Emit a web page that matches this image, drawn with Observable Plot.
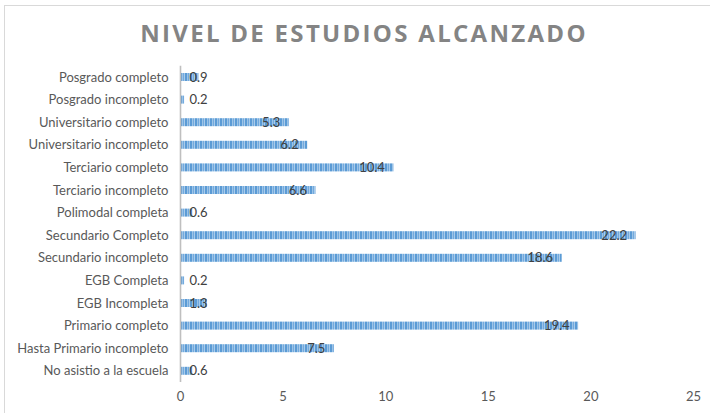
<!DOCTYPE html>
<html>
<head>
<meta charset="utf-8">
<script src="https://cdn.jsdelivr.net/npm/d3@7"></script>
<script src="https://cdn.jsdelivr.net/npm/@observablehq/plot@0.6"></script>
<style>
  html, body { margin: 0; padding: 0; background: #fff; overflow: hidden; width: 710px; height: 413px; }
  #frame { position: absolute; left: 4px; top: 5px; width: 900px; height: 600px; border-top: 1px solid #d9d9d9; border-left: 1px solid #d9d9d9; pointer-events: none; }
  #title { height: 62px; box-sizing: border-box; padding-top: 17px; padding-left: 18px; text-align: center; font-family: "Open Sans", sans-serif; font-weight: 700; font-size: 24px; letter-spacing: 2.3px; color: #848484; line-height: 32px; }
  #chart svg { display: block; }
</style>
</head>
<body>
<div id="frame"></div>
<div id="title">NIVEL DE ESTUDIOS ALCANZADO</div>
<div id="chart"></div>
<script>
const categories = [
  "Posgrado completo",
  "Posgrado incompleto",
  "Universitario completo",
  "Universitario incompleto",
  "Terciario completo",
  "Terciario incompleto",
  "Polimodal completa",
  "Secundario Completo",
  "Secundario incompleto",
  "EGB Completa",
  "EGB Incompleta",
  "Primario completo",
  "Hasta Primario incompleto",
  "No asistio a la escuela"
];
const values = [0.9, 0.2, 5.3, 6.2, 10.4, 6.6, 0.6, 22.2, 18.6, 0.2, 1.3, 19.4, 7.5, 0.6];
const xTicks = [0, 5, 10, 15, 20, 25];

const data = categories.map((c, i) => ({category: c, value: values[i]}));
const smallLimit = 2;

const labelFont = "Lato, 'Open Sans', sans-serif";

const chart = Plot.plot({
  width: 710,
  height: 351,
  marginLeft: 180,
  marginRight: 17,
  marginTop: 3.7,
  marginBottom: 30.9,
  style: {fontFamily: labelFont, fontSize: "13px", color: "#595959", background: "transparent"},
  x: {domain: [0, 25], ticks: xTicks, tickSize: 0, tickPadding: 9, label: null},
  y: {domain: categories, padding: 0, round: false, tickSize: 0, tickPadding: 12, label: null},
  marks: [
    Plot.barX(data, {x: "value", y: "category", fill: "url(#stripes)", insetTop: 7.3, insetBottom: 7.3}),
    Plot.ruleX([0], {stroke: "#bfbfbf", strokeWidth: 1.6}),
    Plot.text(data.filter(d => d.value >= smallLimit), {x: "value", y: "category", text: d => d.value.toFixed(1), textAnchor: "end", dx: -9, fill: "#404040", fontSize: 13}),
    Plot.text(data.filter(d => d.value < smallLimit), {x: 0, y: "category", text: d => d.value.toFixed(1), textAnchor: "start", dx: 9, fill: "#404040", fontSize: 13})
  ]
});

const ns = "http://www.w3.org/2000/svg";
const defs = document.createElementNS(ns, "defs");
const pat = document.createElementNS(ns, "pattern");
pat.setAttribute("id", "stripes");
pat.setAttribute("patternUnits", "userSpaceOnUse");
pat.setAttribute("width", "5");
pat.setAttribute("height", "10");
const stripes = [["#5b9bd5", 0, 2], ["#9dc3e6", 2, 1], ["#72aade", 3, 1], ["#a9cbea", 4, 1]];
for (const [col, x, w] of stripes) {
  const r = document.createElementNS(ns, "rect");
  r.setAttribute("x", x); r.setAttribute("y", 0);
  r.setAttribute("width", w); r.setAttribute("height", 10);
  r.setAttribute("fill", col);
  pat.appendChild(r);
}
defs.appendChild(pat);
chart.insertBefore(defs, chart.firstChild);

document.getElementById("chart").appendChild(chart);
</script>
</body>
</html>
